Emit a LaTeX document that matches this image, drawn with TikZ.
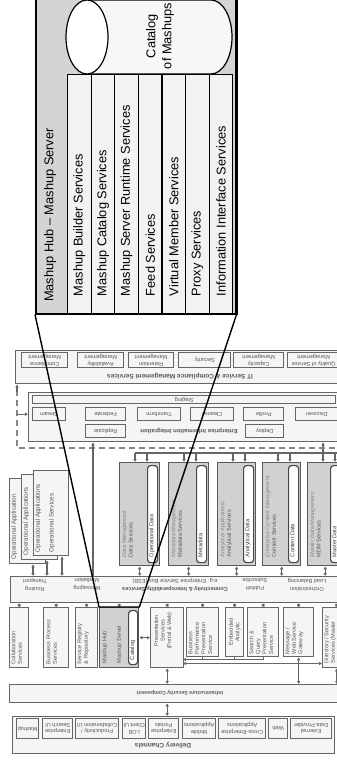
\documentclass[tikz,border=0pt]{standalone}
\usepackage{fontspec}
\setmainfont{Liberation Sans}
\usetikzlibrary{arrows.meta}

\newcommand\gb[6]{\node[#1,minimum width={#5-#3},minimum height={#6-#4}] (#2) at (#3,#4) {};}

\begin{document}
\begin{tikzpicture}[x=1pt,y=-1pt,
  hubbox/.style={draw=black,line width=1.5pt,fill=black!17,anchor=north west,inner sep=0pt},
  col/.style={draw=black,line width=1.2pt,fill=black!5,anchor=north west,inner sep=0pt},
  coltxt/.style={rotate=90,anchor=west,inner sep=0pt,font=\fontsize{12.8}{16}\selectfont},
  gbox/.style={draw=black!60,line width=1.35pt,fill=black!4,anchor=north west,inner sep=0pt},
  dbox/.style={gbox,draw=black!65,fill=black!18},
  capbox/.style={draw=black!72,line width=1.2pt,fill=white,rounded corners=3pt,anchor=north west,inner sep=0pt},
  tx/.style={text=black!66,inner sep=0pt,font=\fontsize{5.6}{6.6}\selectfont},
  utx/.style={tx,rotate=180,align=center},
  vtx/.style={tx,rotate=90,anchor=north west,align=left},
  ctx/.style={tx,rotate=90,align=center},
  hd/.style={utx,font=\fontsize{6}{7.5}\selectfont\bfseries},
  gln/.style={draw=black!60,line width=1.3pt},
  garr/.style={gln,-{Latex[length=3pt,width=3.8pt]}},
  dbl/.style={gln,{Latex[length=3pt,width=3.8pt]}-{Latex[length=3pt,width=3.8pt]}},
  dsh/.style={draw=black!48,line width=1.7pt,dash pattern=on 6pt off 4pt}]

\useasboundingbox (0,0) rectangle (337,763);
\clip (0,0) rectangle (337,763);

% mashup hub callout
\node[hubbox,minimum width=200,minimum height=323] (hub) at (35,-10) {};
\filldraw[fill=black!3,draw=black,line width=1.2pt] (87,0) -- (211,0) arc[start angle=90,end angle=-90,x radius=21pt,y radius=37pt] -- (87,74) -- cycle;
\filldraw[fill=white,draw=black,line width=1.2pt] (87,37) ellipse[x radius=21pt,y radius=37pt];
\node[font=\fontsize{12.8}{16}\selectfont,rotate=90,align=center] (cat) at (160,36) {Catalog\\of Mashups};
\foreach \t [count=\i] in {Mashup Builder Services,Mashup Catalog Services,Mashup Server Runtime Services,Feed Services,Virtual Member Services,Proxy Services,Information Interface Services}{
  \node[col,minimum width=23.6,minimum height=239] (s\i) at ({67+(\i-1)*23.6},74) {};
  \node[coltxt] (s\i-t) at ([yshift=18pt]s\i.south) {\t};
}
\node[coltxt] (hub-t) at (50,302) {Mashup Hub -- Mashup Server};
\draw[line width=2.2pt] (hub.north east) -- (hub.south east);

% it service management
\gb{gbox}{it}{15}{350}{345}{383}
\foreach \nm/\xa/\xb/\t in {itA/21/67/{Compliance\\Management},itB/77/123/{Availability\\Management},itC/128/173/{Retention\\Management},itD/178/230/{Security},itE/233/283/{Capacity\\Management},itF/287/339/{Quality of Service\\Management}}{
  \gb{gbox}{\nm}{\xa}{352}{\xb}{367}
  \node[utx] (\nm-t) at (\nm) {\t};
}
\node[hd,font=\fontsize{6.5}{8}\selectfont\bfseries] (it-t) at (180,376) {IT Service \& Compliance Management Services};

% enterprise information integration
\gb{gbox}{eii}{28}{392}{345}{441}
\gb{gbox}{stg}{32}{395}{335}{403}
\node[utx] (stg-t) at (stg) {Staging};
\foreach \nm/\xa/\xb/\t in {stream/32/65/Stream,fed/85/125/Federate,trans/137/180/Transform,clean/190/233/Cleanse,prof/243/283/Profile,disc/295/337/Discover}{
  \gb{gbox}{\nm}{\xa}{407}{\xb}{420}
  \node[utx] (\nm-t) at (\nm) {\t};
}
\foreach \nm/\xa/\xb/\t in {repl/85/125/Replicate,depl/245/283/Deploy}{
  \gb{gbox}{\nm}{\xa}{424}{\xb}{437}
  \node[utx] (\nm-t) at (\nm) {\t};
}
\node[hd] (eii-t) at (189,431) {Enterprise Information Integration};

% connectivity
\gb{gbox}{conn}{10}{576}{345}{602}
\node[utx,font=\fontsize{5.6}{8}\selectfont] (cn1) at (35,584.5) {Routing\\Transport};
\node[utx,font=\fontsize{5.6}{8}\selectfont] (cn2) at (87,584.5) {Messaging\\Mediation};
\node[utx,font=\fontsize{5.6}{8}\selectfont] (cn3) at (175,584.5) {\textbf{Connectivity \& Interoperability Services}\\e.g. Enterprise Service Bus (ESB)};
\node[utx,font=\fontsize{5.6}{8}\selectfont] (cn4) at (255,584.5) {Publish\\Subscribe};
\node[utx,font=\fontsize{5.6}{8}\selectfont] (cn5) at (307,584.5) {Orchestration\\Load Balancing};

% operational applications
\gb{gbox}{opA}{9}{478}{45}{563}
\node[vtx,font=\fontsize{6.3}{7.3}\selectfont] (opA-t) at ([xshift=2pt,yshift=5pt]opA.south west) {Operational Application};
\gb{gbox}{opB}{21}{474}{57}{559}
\node[vtx,font=\fontsize{6.3}{7.3}\selectfont] (opB-t) at ([xshift=2pt,yshift=5pt]opB.south west) {Operational Applications};
\gb{gbox}{opC}{33}{470}{68}{555}
\node[vtx,font=\fontsize{6.3}{7.3}\selectfont] (opC-t) at ([xshift=2pt,yshift=4pt]opC.south west) {Operational Applications\\[6.5pt]Operational Services};
\draw[dbl] ([xshift=24pt]opA.south west) -- ([xshift=24pt]opA.south west |- conn.north);
\draw[dbl] ([xshift=26pt]opB.south west) -- ([xshift=26pt]opB.south west |- conn.north);
\draw[dbl] ([xshift=29pt]opC.south west) -- ([xshift=29pt]opC.south west |- conn.north);

% data services
\foreach \nm/\xa/\xb/\ta/\tb/\tc in {d1/119/159/Data Management/Data Services/Operational Data,d2/168/208/Metadata Management/Metadata Services/Metadata,d3/217/255/Analytical Applications/Analytical Services/Analytical Data,d4/262/300/Enterprise Content Management/Content Services/Content Data,d5/307/342/Master Data Management/MDM Services/Master Data}{
  \gb{dbox}{\nm}{\xa}{462}{\xb}{565}
  \node[capbox,minimum width=10,minimum height=97] (\nm-c) at (\xb-12,465) {};
  \node[vtx] (\nm-t) at ([xshift=3pt,yshift=9pt]\nm.south west) {{\itshape\color{black!48}\ta}\\\tb};
  \node[vtx,text=black!78] (\nm-ct) at ([xshift=2.2pt,yshift=6pt]\nm-c.south west) {\tc};
  \draw[dbl] (\nm.south) -- (\nm.south |- conn.north);
}
\coordinate (fa) at (135,453);
\coordinate (fb) at (337,453);
\coordinate (fu) at (323,453);
\draw[gln] (fa) -- (fb);
\foreach \nm in {d1,d2,d3,d4}{
  \draw[garr] ([xshift=16pt,yshift=9pt]\nm.north west) -- ([xshift=16pt]\nm.north west);
  \draw[garr] ([xshift=28pt,yshift=9pt]\nm.north west) -- ([xshift=28pt]\nm.north west);
}
\draw[dbl] (fu |- eii.south) -- (fu |- d5.north);
\draw[garr] ([xshift=28pt,yshift=9pt]d5.north west) -- ([xshift=28pt]d5.north west);

% dashed frame
\coordinate (dl) at (17,448);
\coordinate (dr) at (345,448);
\coordinate (mx) at (93,0);
\draw[dsh] (dr) -- (dl) -- (dl |- eii.north);
\draw[garr] (dl |- eii.north) -- (dl |- it.south);
\draw[garr] (dl |- stream) -- (eii.west |- stream);
\draw[garr] (mx |- conn.north) -- (mx |- eii.south);

% services under the bus
\gb{gbox}{collab}{9}{607}{28}{667}
\gb{gbox}{bpm}{43}{607}{68}{667}
\gb{gbox}{reg}{75}{607}{97}{667}
\gb{dbox}{mh}{99}{607}{138}{667}
\gb{gbox}{pres}{150}{607}{183}{667}
\gb{gbox}{bper}{186}{607}{218}{656}
\gb{gbox}{emb}{225}{607}{243}{656}
\gb{gbox}{srch}{247}{607}{278}{656}
\gb{gbox}{gate}{283}{607}{313}{656}
\gb{gbox}{dir}{322}{607}{350}{667}
\node[capbox,minimum width=9,minimum height=54] (mh-c) at (128,610) {};
\node[vtx,text=black!78] (mh-ct) at ([xshift=1.8pt,yshift=5pt]mh-c.south west) {Catalog};
\node[vtx] (mh-t) at ([xshift=3pt,yshift=5pt]mh.south west) {Mashup Hub\\[8pt]Mashup Server};
\node[vtx] (collab-t) at ([xshift=2pt,yshift=4pt]collab.south west) {Collaboration\\Services};
\node[vtx] (bpm-t) at ([xshift=3pt,yshift=4pt]bpm.south west) {Business Process\\Services};
\node[vtx] (reg-t) at ([xshift=2pt,yshift=4pt]reg.south west) {Service Registry\\\& Repository};
\node[ctx] (pres-t) at ([xshift=-4pt,yshift=7pt]pres.center) {Presentation\\Services\\(Portal \& Web)};
\node[vtx] (bper-t) at ([xshift=2pt,yshift=3pt]bper.south west) {Business\\Performance\\Presentation\\Service};
\node[ctx] (emb-t) at (emb) {Embedded\\Analytic};
\node[vtx] (srch-t) at ([xshift=2pt,yshift=3pt]srch.south west) {Search \&\\Query\\Presentation\\Service};
\node[vtx] (gate-t) at ([xshift=2pt,yshift=3pt]gate.south west) {Message /\\Web Service\\Gateway};
\node[vtx] (dir-t) at ([xshift=2pt,yshift=5pt]dir.south west) {Directory / Security\\Services (Master};
\foreach \nm in {collab,bpm,reg,mh,pres,bper,emb,srch,gate,dir}{
  \draw[dbl] (\nm.north) -- (\nm.north |- conn.south);
}
\coordinate (bus) at (183,659.5);
\coordinate (bus2) at (183,663.5);
\draw[dbl] (mh.east) -- (pres.west);
\draw[garr] (srch.south) |- (bus);
\draw[gln] (bper.south) -- (bper.south |- bus);
\draw[gln] (emb.south) -- (emb.south |- bus);
\draw[dbl] (bus2) -- (bus2 -| dir.west);

% infrastructure and delivery
\gb{gbox}{infra}{9}{684}{345}{702}
\node[hd,font=\fontsize{5.2}{6}\selectfont\bfseries] (infra-t) at (180,693) {Infrastructure Security Component};
\draw[dbl] (pres.south) -- (pres.south |- infra.north);
\draw[dbl] (gate.south) -- (gate.south |- infra.north);
\draw[dbl] (dir.south) -- (dir.south |- infra.north);
\gb{gbox}{dv}{12}{716}{334}{753}
\foreach \nm/\xa/\xb/\t in {dmash/16/38/Mashup,dsrch/42/72/{Enterprise\\Search UI},dprod/75/118/{Productivity /\\Collaboration UI},dlob/122/145/{LOB\\Client UI},dport/148/178/{Enterprise\\Portals},dmob/182/215/{Mobile\\Applications},dcross/218/265/{Cross-Enterprise\\Applications},dweb/268/287/Web,dext/290/331/{External\\Data Provider}}{
  \gb{gbox}{\nm}{\xa}{718}{\xb}{738}
  \node[utx] (\nm-t) at (\nm) {\t};
}
\node[hd,font=\fontsize{6.5}{8}\selectfont\bfseries] (dv-t) at (163,745.5) {Delivery Channels};
\draw[dbl] (pres.south |- infra.south) -- (pres.south |- dv.north);

% funnel
\draw[black,line width=1.4pt] (hub.south west) -- (mh.north west) -- (mh.north east) -- (hub.south east);
\end{tikzpicture}
\end{document}
